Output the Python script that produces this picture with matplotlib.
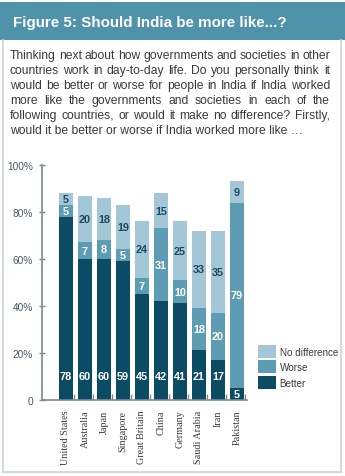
import matplotlib
matplotlib.use('Agg')
import matplotlib.pyplot as plt
from matplotlib.patches import Rectangle
from matplotlib.lines import Line2D

countries = ['United States', 'Australia', 'Japan', 'Singapore', 'Great Britain',
             'China', 'Germany', 'Saudi Arabia', 'Iran', 'Pakistan']
better = [78, 60, 60, 59, 45, 42, 41, 21, 17, 5]
worse = [5, 7, 8, 5, 7, 31, 10, 18, 20, 79]
no_diff = [5, 20, 18, 19, 24, 15, 25, 33, 35, 9]

yticks = [0, 20, 40, 60, 80, 100]
ytick_labels = ['0', '20%', '40%', '60%', '80%', '100%']

title = 'Figure 5: Should India be more like...?'
para_lines = [
    'Thinking next about how governments and societies in other',
    'countries work in day-to-day life. Do you personally think it',
    'would be better or worse for people in India if India worked',
    'more like the governments and societies in each of the',
    'following countries, or would it make no difference? Firstly,',
    'would it be better or worse if India worked more like \u2026',
]

c_dark = '#0c4b64'
c_mid = '#5e9cb3'
c_light = '#a3c7d7'
c_band = '#4f92aa'
c_axis = '#7a8a92'

plt.rcParams['font.family'] = ['Liberation Sans', 'DejaVu Sans']

W, H = 345, 477
fig = plt.figure(figsize=(W / 100, H / 100), dpi=100)
fig.patch.set_facecolor('white')

# header band and frame
fig.patches.append(Rectangle((0, 1 - 41 / H), 1, 38 / H, transform=fig.transFigure,
                             facecolor=c_band, edgecolor='none', zorder=0))
frame = dict(transform=fig.transFigure, color='#c9d3d8', lw=1.2)
fig.lines.append(Line2D([3.5 / W, 3.5 / W], [1 - 41 / H, 1 - 473 / H], **frame))
fig.lines.append(Line2D([340.5 / W, 340.5 / W], [1 - 41 / H, 1 - 473 / H], **frame))
fig.lines.append(Line2D([3.5 / W, 340.5 / W], [1 - 473 / H, 1 - 473 / H], **frame))

fig.text(13 / W, 1 - 23 / H, title, color='white', fontsize=10.9, fontweight='bold',
         va='center', ha='left')

# justified paragraph
renderer = fig.canvas.get_renderer()
x_left, x_right = 10, 330
para = dict(fontsize=8.7, color='#3a3a3a', va='baseline')
for i, line in enumerate(para_lines):
    y = 1 - (59 + 15 * i) / H
    if i == len(para_lines) - 1:
        fig.text(x_left / W, y, line, **para)
        continue
    words = line.split(' ')
    texts = [fig.text(0, y, w, **para) for w in words]
    widths = [t.get_window_extent(renderer).width for t in texts]
    gap = (x_right - x_left - sum(widths)) / (len(words) - 1)
    x = x_left
    for t, wd in zip(texts, widths):
        t.set_x(x / W)
        x += wd + gap

# chart
ax = fig.add_axes([42 / W, 1 - 400.7 / H, 205 / W, 234.7 / H])
xs = list(range(len(countries)))
bw = 0.74
bottom2 = [b + w for b, w in zip(better, worse)]
ax.bar(xs, better, width=bw, color=c_dark, label='Better')
ax.bar(xs, worse, width=bw, bottom=better, color=c_mid, label='Worse')
ax.bar(xs, no_diff, width=bw, bottom=bottom2, color=c_light, label='No difference')

lab = dict(ha='center', va='center', fontsize=7.8, fontweight='bold')
for x, b, w, n, b2 in zip(xs, better, worse, no_diff, bottom2):
    ax.text(x, 10 if b >= 10 else b / 2, str(b), color='white', **lab)
    ax.text(x, b + w / 2, str(w), color='white', **lab)
    ax.text(x, b2 + n / 2, str(n), color='#1d4a63', **lab)

ax.set_xlim(-1.26, 9.53)
ax.set_ylim(0, 100)
ax.set_yticks(yticks)
ax.set_yticklabels(ytick_labels, fontsize=7.3, color='#4a5660')
ax.set_xticks(xs)
ax.set_xticklabels(countries, rotation=90, fontsize=7.3, color='#3a3a3a',
                   family=['Liberation Serif', 'DejaVu Serif'])
ax.tick_params(axis='x', length=0, pad=7)
ax.set_xticks([x + 0.42 for x in xs], minor=True)
ax.tick_params(axis='x', which='minor', direction='in', length=4, color=c_axis, width=1)
ax.tick_params(axis='y', direction='inout', length=5, color=c_axis, width=1, pad=4)
for s in ['top', 'right']:
    ax.spines[s].set_visible(False)
for s in ['left', 'bottom']:
    ax.spines[s].set_color(c_axis)
    ax.spines[s].set_linewidth(1.2)

handles, labels = ax.get_legend_handles_labels()
fig.legend(handles[::-1], labels[::-1], loc='upper left',
           bbox_to_anchor=(258 / W, 1 - 346 / H), frameon=False, fontsize=7.1,
           handlelength=1.85, handleheight=1.65, labelspacing=0.25, handletextpad=0.35,
           borderpad=0, borderaxespad=0, labelcolor='#3a3a3a')

fig.savefig('out.png', dpi=100)
